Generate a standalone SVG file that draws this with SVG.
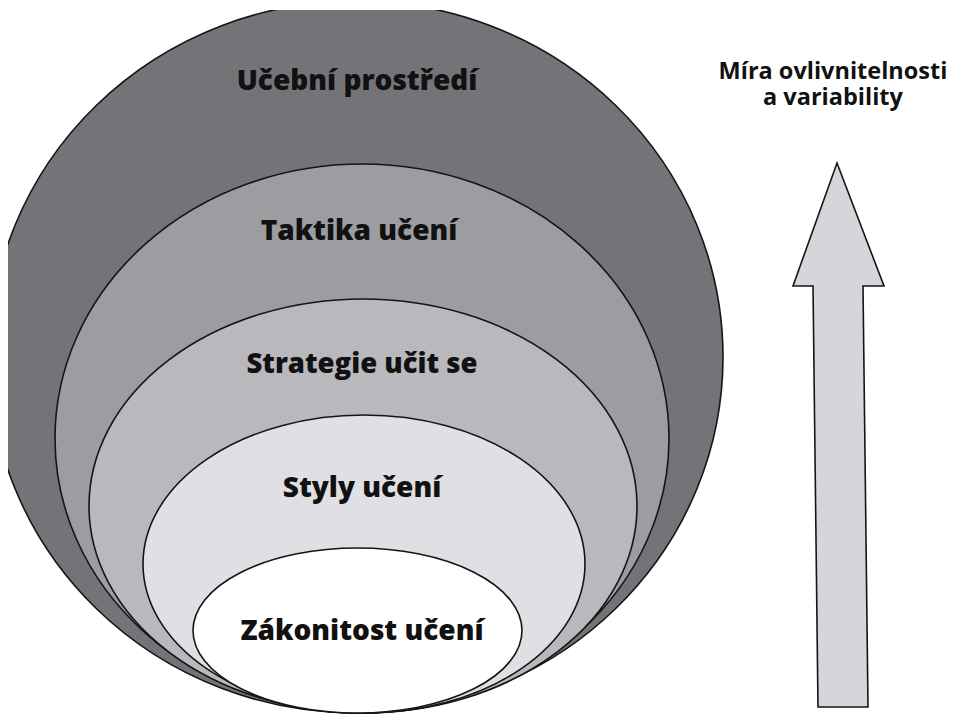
<svg xmlns="http://www.w3.org/2000/svg" width="958" height="720" viewBox="0 0 958 720">
  <style>
    .ring { stroke: #151515; stroke-width: 1.6; }
    .lbl { font-family: "Open Sans", "Liberation Sans", sans-serif; font-weight: 800; font-size: 28px; fill: #111; text-anchor: middle; }
    .ttl { font-family: "Open Sans", "Liberation Sans", sans-serif; font-weight: 700; font-size: 23.5px; fill: #111; text-anchor: middle; }
  </style>
  <defs>
    <clipPath id="page">
      <rect x="8" y="10" width="950" height="710"/>
    </clipPath>
  </defs>
  <rect x="0" y="0" width="958" height="720" fill="#ffffff"/>
  <g clip-path="url(#page)">
    <g id="ucebni-prostredi">
      <ellipse class="ring" cx="356" cy="357" rx="367" ry="356" fill="#747478"/>
      <text class="lbl" x="357" y="90">Učební prostředí</text>
    </g>
    <g id="taktika-uceni">
      <ellipse class="ring" cx="362" cy="438.5" rx="307" ry="274.5" fill="#9d9da1"/>
      <text class="lbl" x="359" y="240">Taktika učení</text>
    </g>
    <g id="strategie-ucit-se">
      <ellipse class="ring" cx="363" cy="506" rx="274" ry="207" fill="#b9b9bd"/>
      <text class="lbl" x="362" y="373" style="font-size:27.5px">Strategie učit se</text>
    </g>
    <g id="styly-uceni">
      <ellipse class="ring" cx="364" cy="564" rx="221" ry="149" fill="#e0e0e4"/>
      <text class="lbl" x="362" y="497">Styly učení</text>
    </g>
    <g id="zakonitost-uceni">
      <ellipse class="ring" cx="357.5" cy="630.5" rx="164.5" ry="82.5" fill="#ffffff"/>
      <text class="lbl" x="362" y="640">Zákonitost učení</text>
    </g>
  </g>
  <g id="mira-ovlivnitelnosti">
    <text class="ttl" x="833" y="79">Míra ovlivnitelnosti</text>
    <text class="ttl" x="833" y="105">a variability</text>
  </g>
  <g id="connectors">
    <polygon id="arrow" class="ring" fill="#d6d6da" points="837,163 884,286 863,286 868,707 818,707 813,286 793,286"/>
  </g>
</svg>
